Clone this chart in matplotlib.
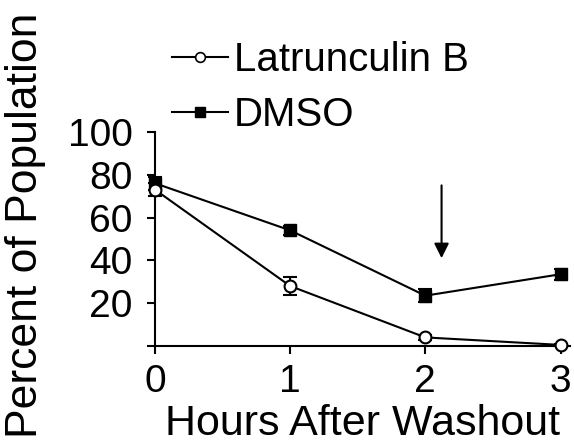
import matplotlib.pyplot as plt
from matplotlib.lines import Line2D

plt.rcParams['font.family'] = ['Liberation Sans', 'DejaVu Sans']

# data
hours = [0, 1, 2, 3]
latb = [73, 28, 4, 0.5]
latb_err = [3, 4, 1, 0.5]
dmso = [76, 54, 23.5, 33.5]
dmso_err = [3, 2, 3, 2.5]
arrow_x = 2.12
arrow_top, arrow_tip = 75, 41

fig = plt.figure(figsize=(5.74, 4.47), dpi=100)
ax = fig.add_axes([0.270, 0.226, 0.723, 0.479])

ax.errorbar(hours, dmso, yerr=dmso_err, color='black', lw=1.5, marker='s',
            ms=9, mfc='black', mec='black', capsize=5, elinewidth=1.5,
            capthick=1.5, clip_on=False, zorder=3)
ax.errorbar(hours, latb, yerr=latb_err, color='black', lw=1.5, marker='o',
            ms=8.5, mfc='white', mec='black', mew=1.5, capsize=5,
            elinewidth=1.5, capthick=1.5, clip_on=False, zorder=4)

# arrow at the 2 h point
ax.annotate('', xy=(arrow_x, arrow_tip), xytext=(arrow_x, arrow_top),
            arrowprops=dict(arrowstyle='-|>', color='black', lw=1.5,
                            mutation_scale=22, shrinkA=0, shrinkB=0))

ax.set_xlim(0, 3.07)
ax.set_ylim(0, 100)
ax.set_xticks(hours)
ax.set_yticks([0, 20, 40, 60, 80, 100])
ax.set_yticklabels(['', '20', '40', '60', '80', '100'])
for s in ['top', 'right']:
    ax.spines[s].set_visible(False)
for s in ['left', 'bottom']:
    ax.spines[s].set_linewidth(1.5)
ax.tick_params(labelsize=28, width=1.5, length=6)
ax.tick_params(axis='x', pad=7)
ax.tick_params(axis='y', pad=10)
ax.set_xlabel('Hours After Washout', fontsize=31, labelpad=3)
fig.text(0.044, 0.495, 'Percent of Population', rotation=90, fontsize=32,
         ha='center', va='center')

handles = [
    Line2D([], [], color='black', lw=1.5, marker='o', ms=7, mfc='white',
           mec='black', mew=1.2),
    Line2D([], [], color='black', lw=1.5, marker='s', ms=7, mfc='black'),
]
ax.legend(handles, ['Latrunculin B', 'DMSO'], loc='lower left',
          bbox_to_anchor=(0.04, 0.99), frameon=False, fontsize=29,
          handlelength=1.4, handletextpad=0.15, labelspacing=0.42,
          borderaxespad=0, borderpad=0)

fig.savefig('out.png', dpi=100)
